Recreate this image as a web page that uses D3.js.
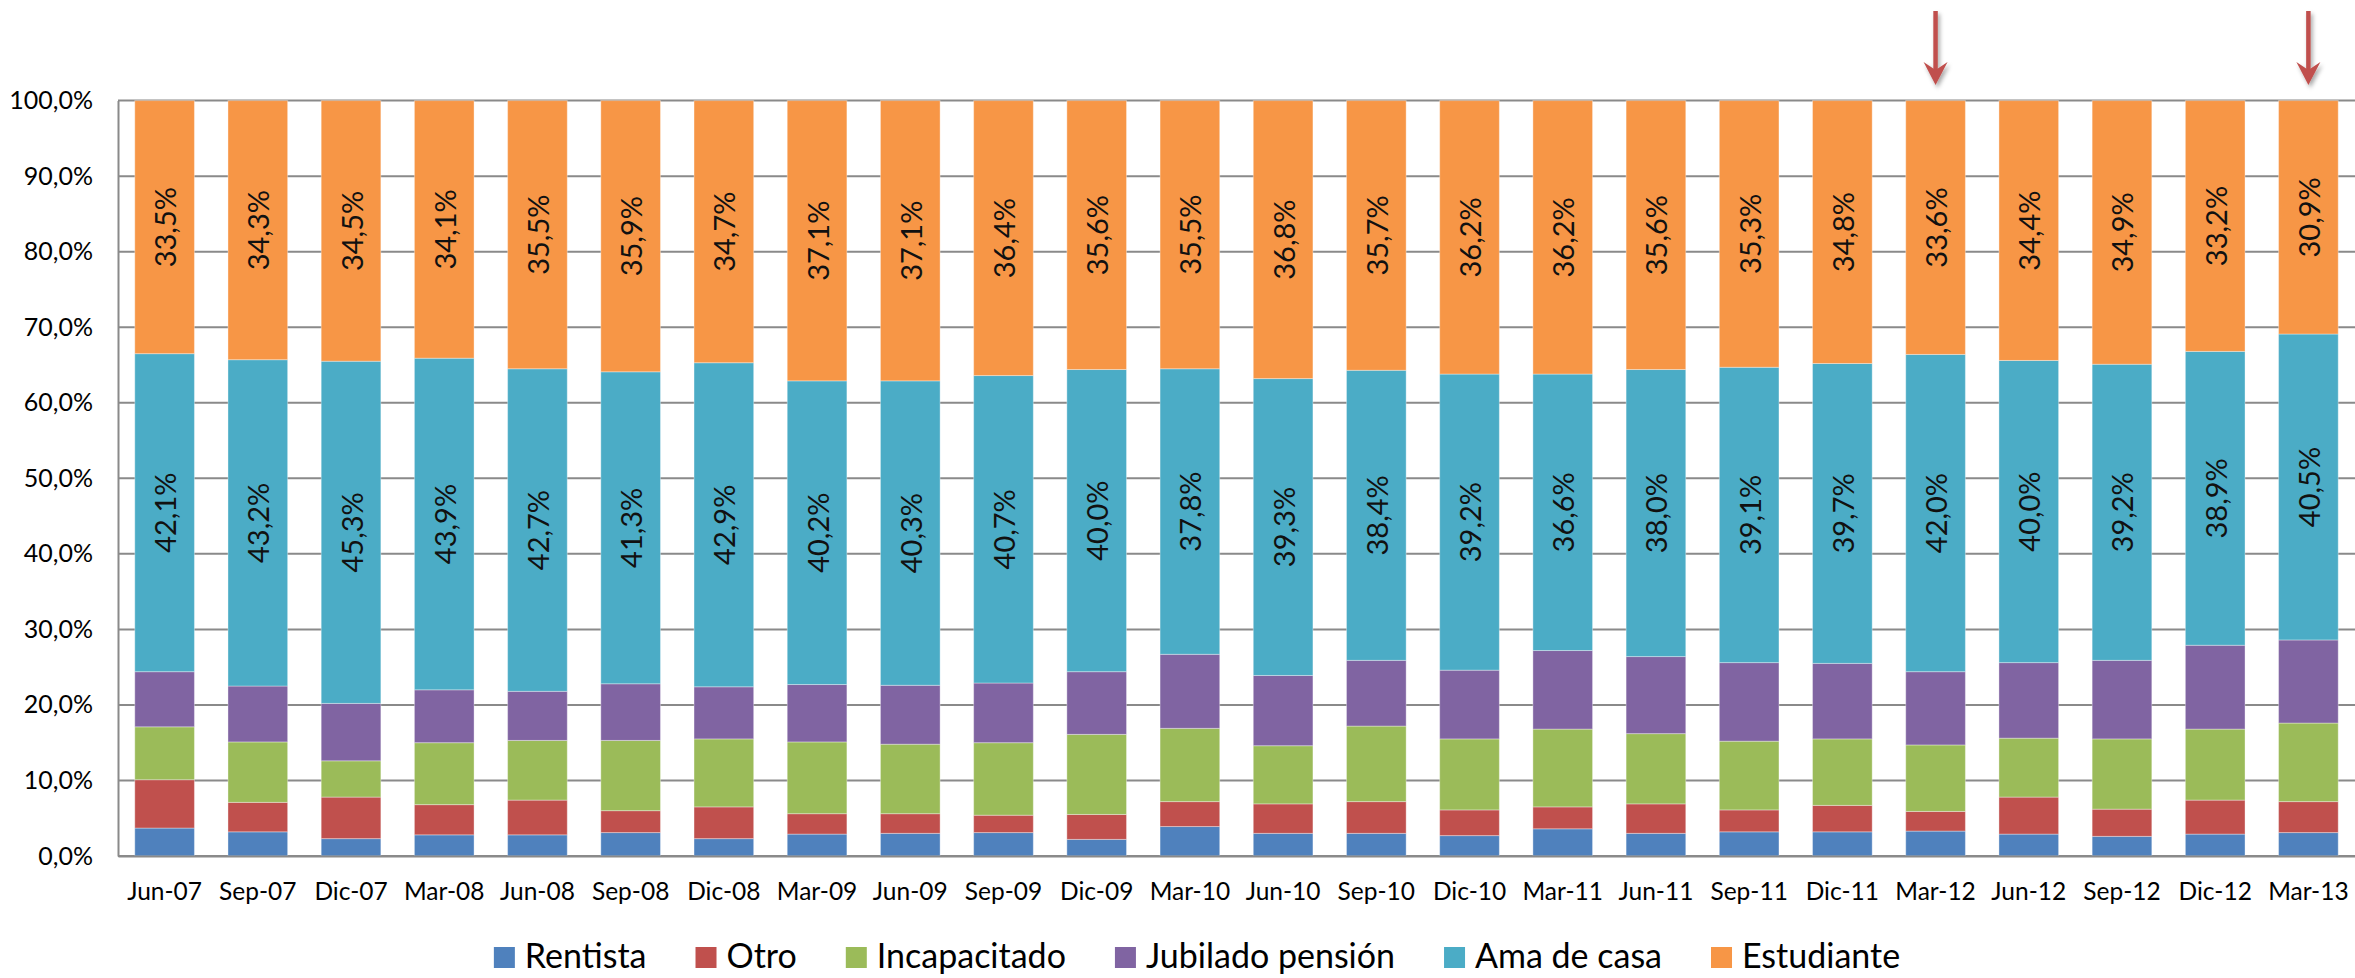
<!DOCTYPE html>
<html>
<head>
<meta charset="utf-8">
<script src="https://cdn.jsdelivr.net/npm/d3@7"></script>
<style>
    html, body { margin: 0; padding: 0; background: #fff; }
    svg { display: block; font-family: Lato, "Open Sans", sans-serif; }
</style>
</head>
<body>
<script>
// quarters on the x axis
const categories = ['Jun-07', 'Sep-07', 'Dic-07', 'Mar-08', 'Jun-08', 'Sep-08', 'Dic-08',
    'Mar-09', 'Jun-09', 'Sep-09', 'Dic-09', 'Mar-10', 'Jun-10', 'Sep-10', 'Dic-10',
    'Mar-11', 'Jun-11', 'Sep-11', 'Dic-11', 'Mar-12', 'Jun-12', 'Sep-12', 'Dic-12', 'Mar-13'];

// series shares (%), stacked from the bottom
const rentista = [3.7, 3.2, 2.3, 2.8, 2.8, 3.1, 2.3, 2.9, 3.0, 3.1, 2.2, 3.9,
    3.0, 3.0, 2.7, 3.6, 3.0, 3.2, 3.2, 3.3, 2.9, 2.6, 2.9, 3.1];
const otro = [6.4, 3.9, 5.5, 4.0, 4.6, 2.9, 4.2, 2.7, 2.6, 2.3, 3.3, 3.3,
    3.9, 4.2, 3.4, 2.9, 3.9, 2.9, 3.5, 2.6, 4.9, 3.6, 4.5, 4.1];
const incapacitado = [7.0, 8.0, 4.8, 8.2, 7.9, 9.3, 9.0, 9.5, 9.2, 9.6, 10.6, 9.7,
    7.7, 10.0, 9.4, 10.3, 9.3, 9.1, 8.8, 8.8, 7.8, 9.3, 9.4, 10.4];
const jubilado = [7.3, 7.4, 7.6, 7.0, 6.5, 7.5, 6.9, 7.6, 7.8, 7.9, 8.3, 9.8,
    9.3, 8.7, 9.1, 10.4, 10.2, 10.4, 10.0, 9.7, 10.0, 10.4, 11.1, 11.0];
const amaDeCasa = [42.1, 43.2, 45.3, 43.9, 42.7, 41.3, 42.9, 40.2, 40.3, 40.7, 40.0, 37.8,
    39.3, 38.4, 39.2, 36.6, 38.0, 39.1, 39.7, 42.0, 40.0, 39.2, 38.9, 40.5];
const estudiante = [33.5, 34.3, 34.5, 34.1, 35.5, 35.9, 34.7, 37.1, 37.1, 36.4, 35.6, 35.5,
    36.8, 35.7, 36.2, 36.2, 35.6, 35.3, 34.8, 33.6, 34.4, 34.9, 33.2, 30.9];

const seriesNames = ['Rentista', 'Otro', 'Incapacitado', 'Jubilado pensión', 'Ama de casa', 'Estudiante'];
const seriesValues = [rentista, otro, incapacitado, jubilado, amaDeCasa, estudiante];
const seriesColors = ['#4F81BD', '#C0504D', '#9BBB59', '#8064A2', '#4BACC6', '#F79646'];
const labelledSeries = ['Ama de casa', 'Estudiante'];
const yTicks = [0, 10, 20, 30, 40, 50, 60, 70, 80, 90, 100];
const arrowTargets = ['Mar-12', 'Mar-13'];

class Chart {
    constructor() {
        this._params = {
            width: 2355,
            height: 978,
            left: 118,
            right: 2355,
            top: 100.6,
            bottom: 856,
            padding: 0.36,
            gridColor: '#8a8a8a',
            arrowColor: '#C0504D'
        };
        this._svg = d3.select('body').append('svg')
            .attr('width', this._params.width)
            .attr('height', this._params.height);
        this._buildData();
        this._setupScales();
        this._setupDefs();
        this._drawGrid();
        this._drawBars();
        this._drawLabels();
        this._drawAxes();
        this._drawArrows();
        this._drawLegend();
    }

    _buildData() {
        // one row per quarter, keyed by series name
        this._rows = categories.map((cat, i) => {
            const row = {cat};
            seriesNames.forEach((name, s) => { row[name] = seriesValues[s][i]; });
            return row;
        });
        this._stack = d3.stack().keys(seriesNames)(this._rows);
    }

    _setupScales() {
        const p = this._params;
        this._x = d3.scaleBand()
            .domain(categories)
            .range([p.left, p.right])
            .paddingInner(p.padding)
            .paddingOuter(p.padding / 2);
        this._y = d3.scaleLinear().domain([0, 100]).range([p.bottom, p.top]);
        this._color = d3.scaleOrdinal(seriesNames, seriesColors);
    }

    _setupDefs() {
        const defs = this._svg.append('defs');
        defs.append('filter')
            .attr('id', 'arrow-shadow')
            .attr('x', '-50%').attr('y', '-20%')
            .attr('width', '200%').attr('height', '150%')
            .append('feDropShadow')
            .attr('dx', 2).attr('dy', 3)
            .attr('stdDeviation', 2)
            .attr('flood-color', '#000')
            .attr('flood-opacity', 0.35);
    }

    _drawGrid() {
        const p = this._params;
        this._svg.append('g')
            .selectAll('line')
            .data(yTicks)
            .join('line')
            .attr('x1', p.left)
            .attr('x2', p.right)
            .attr('y1', d => this._y(d))
            .attr('y2', d => this._y(d))
            .attr('stroke', p.gridColor)
            .attr('stroke-width', 2);
    }

    _drawBars() {
        this._svg.append('g')
            .selectAll('g')
            .data(this._stack)
            .join('g')
            .attr('fill', d => this._color(d.key))
            .selectAll('rect')
            .data(d => d)
            .join('rect')
            .attr('x', d => this._x(d.data.cat))
            .attr('width', this._x.bandwidth())
            .attr('y', d => this._y(d[1]))
            .attr('height', d => this._y(d[0]) - this._y(d[1]))
            .attr('stroke', 'rgba(255,255,255,0.35)')
            .attr('stroke-width', 1);
    }

    _drawLabels() {
        // rotated value labels on the two top segments
        const fmt = v => v.toFixed(1).replace('.', ',') + '%';
        const layers = this._stack.filter(layer => labelledSeries.includes(layer.key));
        this._svg.append('g')
            .selectAll('g')
            .data(layers)
            .join('g')
            .selectAll('text')
            .data(layer => layer.map(d => ({d, key: layer.key})))
            .join('text')
            .attr('transform', ({d}) => {
                const cx = this._x(d.data.cat) + this._x.bandwidth() / 2;
                const cy = (this._y(d[0]) + this._y(d[1])) / 2;
                return `translate(${cx},${cy}) rotate(-90)`;
            })
            .attr('text-anchor', 'middle')
            .attr('dominant-baseline', 'central')
            .style('font-size', '29px')
            .attr('fill', '#111')
            .text(({d, key}) => fmt(d.data[key]));
    }

    _drawAxes() {
        const p = this._params;
        // y axis
        const yAxis = this._svg.append('g')
            .attr('transform', `translate(${p.left},0)`)
            .call(d3.axisLeft(this._y)
                .tickValues(yTicks)
                .tickSize(0)
                .tickPadding(25)
                .tickFormat(v => v.toFixed(1).replace('.', ',') + '%'));
        yAxis.select('.domain').attr('stroke', p.gridColor).attr('stroke-width', 2);
        yAxis.selectAll('text')
            .style('font-size', '25px')
            .style('font-family', 'Lato, sans-serif')
            .attr('fill', '#000');
        // x axis
        const xAxis = this._svg.append('g')
            .attr('transform', `translate(0,${p.bottom})`)
            .call(d3.axisBottom(this._x).tickSize(0).tickPadding(27));
        xAxis.select('.domain').attr('stroke', p.gridColor).attr('stroke-width', 2);
        xAxis.selectAll('text')
            .style('font-size', '24.5px')
            .style('font-family', 'Lato, sans-serif')
            .attr('fill', '#000');
    }

    _drawArrows() {
        const p = this._params;
        const arrows = this._svg.append('g')
            .selectAll('g')
            .data(arrowTargets)
            .join('g')
            .attr('transform', d => `translate(${this._x(d) + this._x.bandwidth() / 2},0)`)
            .attr('filter', 'url(#arrow-shadow)');
        arrows.append('line')
            .attr('x1', 0).attr('x2', 0)
            .attr('y1', 11).attr('y2', 72)
            .attr('stroke', p.arrowColor)
            .attr('stroke-width', 4.5);
        arrows.append('path')
            .attr('d', 'M 0 85 L -12 62 L 0 70 L 12 62 Z')
            .attr('fill', p.arrowColor);
    }

    _drawLegend() {
        const legend = this._svg.append('g');
        const items = legend.selectAll('g')
            .data(seriesNames)
            .join('g');
        items.append('rect')
            .attr('width', 21)
            .attr('height', 21)
            .attr('y', 947)
            .attr('fill', d => this._color(d));
        items.append('text')
            .attr('x', 31)
            .attr('y', 968)
            .style('font-size', '34px')
            .attr('fill', '#000')
            .text(d => d);
        // lay the items out in a row, centred under the chart
        let offset = 0;
        const gap = 49;
        items.each(function () {
            const w = 31 + d3.select(this).select('text').node().getComputedTextLength();
            d3.select(this).attr('data-x', offset);
            offset += w + gap;
        });
        const total = offset - gap;
        const start = 1197 - total / 2;
        items.attr('transform', function () {
            return `translate(${start + (+d3.select(this).attr('data-x'))},0)`;
        });
    }
}

new Chart();
</script>
</body>
</html>
